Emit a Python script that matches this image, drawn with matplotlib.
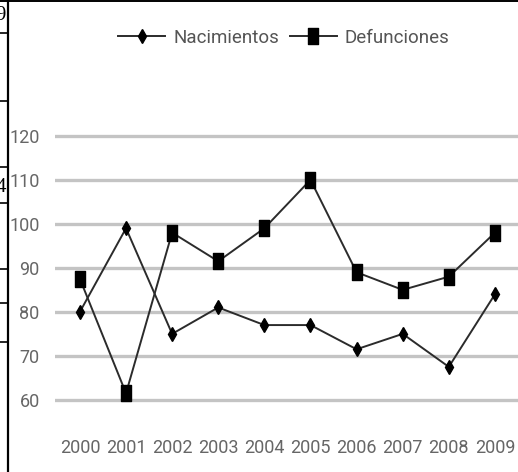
import matplotlib
matplotlib.use("Agg")
import matplotlib.pyplot as plt
from matplotlib.lines import Line2D
from matplotlib.path import Path

# data
years = [2000, 2001, 2002, 2003, 2004, 2005, 2006, 2007, 2008, 2009]
nacimientos = [80, 99, 75, 81, 77, 77, 71.5, 75, 67.5, 84]
defunciones = [87.5, 61.5, 98, 91.5, 99, 110, 89, 85, 88, 98]
yticks = [60, 70, 80, 90, 100, 110, 120]

FONT = ['Roboto', 'DejaVu Sans']
plt.rcParams['font.family'] = FONT

W, H = 518, 472
fig = plt.figure(figsize=(W / 100, H / 100), dpi=100)

# axes placed in pixel terms
left, right, top, bottom = 55, 518, 120, 410
ax = fig.add_axes([left / W, 1 - bottom / H, (right - left) / W, (bottom - top) / H])
ax.set_xlim(1999.46, 2009.5)
ax.set_ylim(57.7, 123.6)

# tall, narrow square marker (the original is stretched vertically)
rect = Path([(-0.33, -0.5), (0.33, -0.5), (0.33, 0.5), (-0.33, 0.5), (-0.33, -0.5)],
            [Path.MOVETO, Path.LINETO, Path.LINETO, Path.LINETO, Path.CLOSEPOLY])

line_col = '#2b2b2b'
ax.plot(years, nacimientos, color=line_col, lw=1.4, marker='d', ms=7.5,
        mfc='black', mec='black', zorder=3)
ax.plot(years, defunciones, color=line_col, lw=1.4, marker=rect, ms=11,
        mfc='black', mec='black', zorder=3)

for v in yticks:
    ax.axhline(v, color='#c4c4c4', lw=2.4, zorder=1)

ax.set_yticks(yticks)
ax.set_xticks(years)
ax.tick_params(axis='both', length=0, labelsize=13, labelcolor='#666666')
ax.tick_params(axis='y', pad=11)
ax.tick_params(axis='x', pad=21)
for s in ax.spines.values():
    s.set_visible(False)

handles = [
    Line2D([], [], color=line_col, lw=1.4, marker='d', ms=7.5, mfc='black', mec='black'),
    Line2D([], [], color=line_col, lw=1.4, marker=rect, ms=11, mfc='black', mec='black'),
]
fig.legend(handles, ['Nacimientos', 'Defunciones'], loc='center',
           bbox_to_anchor=(284 / W, 1 - 38 / H), ncol=2, frameon=False,
           fontsize=13.5, handlelength=2.5, handletextpad=0.45, columnspacing=0.55,
           labelcolor='#555555')

# leftover frame of the cropped table on the left
fig.add_artist(Line2D([8 / W, 8 / W], [0, 1], color='black', lw=1.6))
fig.add_artist(Line2D([0, 1], [1 - 0.8 / H, 1 - 0.8 / H], color='black', lw=1.4))
for yy in [33, 101, 167, 203, 269, 303, 342]:
    fig.add_artist(Line2D([0, 8 / W], [1 - yy / H, 1 - yy / H], color='black', lw=1.2))
fig.text(6 / W, 1 - 16 / H, '9', ha='right', va='center', fontsize=15,
         family='Liberation Serif')
fig.text(6 / W, 1 - 188 / H, '4', ha='right', va='center', fontsize=15,
         family='Liberation Serif')

fig.savefig('out.png', dpi=100)
